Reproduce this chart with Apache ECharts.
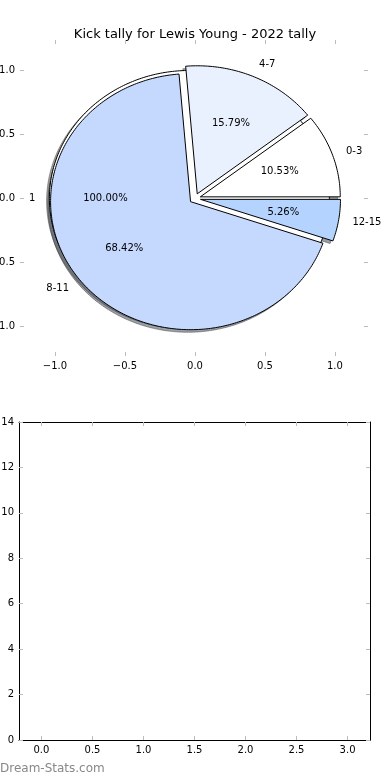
<!DOCTYPE html>
<html><head><meta charset="utf-8">
<script src="https://cdn.jsdelivr.net/npm/echarts@6/dist/echarts.min.js"></script>
<style>html,body{margin:0;padding:0;background:#fff}#c{width:390px;height:780px}</style>
</head><body><div id="c"></div>
<script>
const titleText = 'Kick tally for Lewis Young - 2022 tally';
const categories = ['0-3', '4-7', '8-11', '12-15'];
const kicks = [2, 3, 13, 1];
const totalLabels = ['1'];
const totalValues = [1];
const pieXTicks = [-1, -0.5, 0, 0.5, 1];
const pieYTicks = [-1, -0.5, 0, 0.5, 1];
const barXTicks = [0, 0.5, 1, 1.5, 2, 2.5, 3];
const barYTicks = [0, 2, 4, 6, 8, 10, 12, 14];

const sliceColors = ['#ffffff', '#eaf1fe', '#c5d8fd', '#b4d3fe'];
const EXPLODE = 0.04, RADIUS = 1, SHADOW_DX = -0.02, SHADOW_DY = -0.02;
const FONT = 'DejaVu Sans';
const TICK = '#bdbdbd';

function makeWedges(labels, values, colors) {
  const total = values.reduce((a, b) => a + b, 0);
  let t = 0; const out = [];
  values.forEach((v, i) => {
    const t1 = t, t2 = t + 360 * v / total; t = t2;
    const mid = (t1 + t2) / 2 * Math.PI / 180;
    out.push({label: labels[i], pct: (100 * v / total).toFixed(2) + '%', t1, t2, mid,
      cx: EXPLODE * Math.cos(mid), cy: EXPLODE * Math.sin(mid), color: colors[i % colors.length]});
  });
  return out;
}
const allWedges = makeWedges(totalLabels, totalValues, sliceColors).concat(makeWedges(categories, kicks, sliceColors));

function wedgePoints(api, w, dx, dy) {
  const pts = [];
  const full = Math.abs(w.t2 - w.t1 - 360) < 1e-9;
  if (!full) pts.push(api.coord([w.cx + dx, w.cy + dy]));
  const n = Math.max(8, Math.ceil(w.t2 - w.t1));
  for (let k = 0; k <= n; k++) {
    const a = (w.t1 + (w.t2 - w.t1) * k / n) * Math.PI / 180;
    pts.push(api.coord([w.cx + dx + RADIUS * Math.cos(a), w.cy + dy + RADIUS * Math.sin(a)]));
  }
  return pts;
}
function shade(hex) {
  const r = parseInt(hex.slice(1, 3), 16), g = parseInt(hex.slice(3, 5), 16), b = parseInt(hex.slice(5, 7), 16);
  return 'rgba(' + Math.round(r * 0.3) + ',' + Math.round(g * 0.3) + ',' + Math.round(b * 0.3) + ',0.5)';
}
const fmt1 = v => (v < 0 ? '\u2212' : '') + Math.abs(v).toFixed(1);
const fmt0 = v => String(v);

function axisCommon(extra) {
  return Object.assign({
    type: 'value', splitLine: {show: false},
    axisTick: {show: true, inside: true, length: 4, lineStyle: {color: TICK, width: 1}},
    axisLabel: {show: false, color: '#000', fontSize: 10, fontFamily: FONT, margin: 5}
  }, extra);
}

const option = {
  animation: false,
  backgroundColor: '#fff',
  title: {text: titleText, left: 'center', top: 23,
    textStyle: {fontSize: 13, fontWeight: 'normal', color: '#000', fontFamily: FONT}},
  graphic: [{type: 'text', left: 0, top: 763,
    style: {text: 'Dream-Stats.com', fill: '#888', font: '12px ' + FONT}}],
  grid: [
    {left: 20, top: 40, width: 348, height: 316, outerBoundsMode: 'none', containLabel: false},
    {left: 19, top: 422, width: 351, height: 318, outerBoundsMode: 'none', containLabel: false}
  ],
  xAxis: [
    axisCommon({gridIndex: 0, min: -1.25, max: 1.236, position: 'bottom',
      axisLine: {show: false, onZero: false},
      axisTick: {show: true, inside: true, length: 4, customValues: pieXTicks, lineStyle: {color: TICK}},
      axisLabel: {show: true, customValues: pieXTicks, formatter: fmt1, color: '#000', fontSize: 10, fontFamily: FONT, margin: 5}}),
    axisCommon({gridIndex: 0, min: -1.25, max: 1.236, position: 'top',
      axisLine: {show: false, onZero: false},
      axisTick: {show: true, inside: true, length: 4, customValues: pieXTicks, lineStyle: {color: TICK}}}),
    axisCommon({gridIndex: 1, min: -0.22, max: 3.22, position: 'bottom',
      axisLine: {show: true, onZero: false, lineStyle: {color: '#000', width: 1}},
      axisTick: {show: true, inside: true, length: 4, customValues: barXTicks, lineStyle: {color: TICK}},
      axisLabel: {show: true, customValues: barXTicks, formatter: fmt1, color: '#000', fontSize: 10, fontFamily: FONT, margin: 5}}),
    axisCommon({gridIndex: 1, min: -0.22, max: 3.22, position: 'top',
      axisLine: {show: true, onZero: false, lineStyle: {color: '#000', width: 1}},
      axisTick: {show: true, inside: true, length: 4, customValues: barXTicks, lineStyle: {color: TICK}}})
  ],
  yAxis: [
    axisCommon({gridIndex: 0, min: -1.23, max: 1.238, position: 'left',
      axisLine: {show: false, onZero: false},
      axisTick: {show: true, inside: true, length: 4, customValues: pieYTicks, lineStyle: {color: TICK}},
      axisLabel: {show: true, customValues: pieYTicks, formatter: fmt1, color: '#000', fontSize: 10, fontFamily: FONT, margin: 5}}),
    axisCommon({gridIndex: 0, min: -1.23, max: 1.238, position: 'right',
      axisLine: {show: false, onZero: false},
      axisTick: {show: true, inside: true, length: 4, customValues: pieYTicks, lineStyle: {color: TICK}}}),
    axisCommon({gridIndex: 1, min: 0, max: 14, position: 'left',
      axisLine: {show: true, onZero: false, lineStyle: {color: '#000', width: 1}},
      axisTick: {show: true, inside: true, length: 4, customValues: barYTicks, lineStyle: {color: TICK}},
      axisLabel: {show: true, customValues: barYTicks, formatter: fmt0, color: '#000', fontSize: 10, fontFamily: FONT, margin: 5}}),
    axisCommon({gridIndex: 1, min: 0, max: 14, position: 'right',
      axisLine: {show: true, onZero: false, lineStyle: {color: '#000', width: 1}},
      axisTick: {show: true, inside: true, length: 4, customValues: barYTicks, lineStyle: {color: TICK}}})
  ],
  series: [
    {type: 'custom', name: 'shadows', coordinateSystem: 'cartesian2d', xAxisIndex: 0, yAxisIndex: 0, z: 1, silent: true,
      data: allWedges.map((w, i) => [i]),
      renderItem: (params, api) => {
        const w = allWedges[params.dataIndex];
        const c = shade(w.color);
        return {type: 'polygon', shape: {points: wedgePoints(api, w, SHADOW_DX, SHADOW_DY)},
          style: {fill: c, stroke: c, lineWidth: 1}};
      }},
    {type: 'custom', name: 'wedges', coordinateSystem: 'cartesian2d', xAxisIndex: 0, yAxisIndex: 0, z: 2, silent: true,
      data: allWedges.map((w, i) => [i]),
      renderItem: (params, api) => {
        const w = allWedges[params.dataIndex];
        return {type: 'polygon', shape: {points: wedgePoints(api, w, 0, 0)},
          style: {fill: w.color, stroke: '#000', lineWidth: 1}};
      }},
    {type: 'custom', name: 'labels', coordinateSystem: 'cartesian2d', xAxisIndex: 0, yAxisIndex: 0, z: 3, silent: true,
      data: allWedges.map((w, i) => [i]),
      renderItem: (params, api) => {
        const w = allWedges[params.dataIndex];
        const lx = w.cx + 1.1 * RADIUS * Math.cos(w.mid), ly = w.cy + 1.1 * RADIUS * Math.sin(w.mid);
        const px = w.cx + 0.6 * RADIUS * Math.cos(w.mid), py = w.cy + 0.6 * RADIUS * Math.sin(w.mid);
        const lp = api.coord([lx, ly]), pp = api.coord([px, py]);
        return {type: 'group', children: [
          {type: 'text', x: lp[0], y: lp[1], style: {text: w.label, fill: '#000', fontSize: 10, fontFamily: FONT,
            align: lx > 0 ? 'left' : 'right', verticalAlign: 'middle'}},
          {type: 'text', x: pp[0], y: pp[1], style: {text: w.pct, fill: '#000', fontSize: 10, fontFamily: FONT,
            align: 'center', verticalAlign: 'middle'}}
        ]};
      }},
    {type: 'bar', name: 'empty', xAxisIndex: 2, yAxisIndex: 2, data: []}
  ]
};
const chart = echarts.init(document.getElementById('c'), null, {renderer: 'canvas'});
chart.setOption(option);
</script></body></html>
